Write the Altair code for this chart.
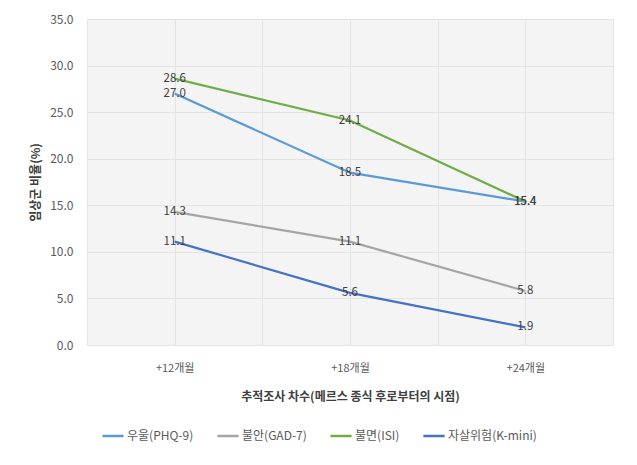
import altair as alt
import pandas as pd

months = [12, 18, 24]
series_names = ["우울(PHQ-9)", "불안(GAD-7)", "불면(ISI)", "자살위험(K-mini)"]
depression = [27.0, 18.5, 15.4]
anxiety = [14.3, 11.1, 5.8]
insomnia = [28.6, 24.1, 15.4]
suicide = [11.1, 5.6, 1.9]
colors = ["#5B9BD5", "#A5A5A5", "#70AD47", "#4472C4"]

rows = []
for name, vals in zip(series_names, [depression, anxiety, insomnia, suicide]):
    for m, v in zip(months, vals):
        rows.append({"month": m, "series": name, "value": v})
df = pd.DataFrame(rows)

FONT = "Noto Sans CJK KR"

x = alt.X(
    "month:Q",
    scale=alt.Scale(domain=[9, 27], nice=False, zero=False),
    axis=alt.Axis(
        values=[9, 12, 15, 18, 21, 24, 27],
        labelExpr="(datum.value == 12 || datum.value == 18 || datum.value == 24) ? '+' + datum.value + '개월' : ''",
        title="추적조사 차수(메르스 종식 후로부터의 시점)",
        ticks=False,
        domain=False,
        grid=True,
        gridColor="#e4e4e4",
        labelPadding=17,
        labelFontSize=11,
        labelColor="#595959",
        titleFontSize=12,
        titleFontWeight="bold",
        titleColor="#404040",
        titlePadding=18,
    ),
)
y = alt.Y(
    "value:Q",
    scale=alt.Scale(domain=[0, 35], nice=False),
    axis=alt.Axis(
        values=[0, 5, 10, 15, 20, 25, 30, 35],
        format=".1f",
        title="임상군 비율(%)",
        ticks=False,
        domain=False,
        grid=True,
        gridColor="#e4e4e4",
        labelPadding=14,
        labelFontSize=12,
        labelColor="#595959",
        titleFontSize=12,
        titleFontWeight="bold",
        titleColor="#404040",
        titlePadding=7,
    ),
)
color = alt.Color(
    "series:N",
    scale=alt.Scale(domain=series_names, range=colors),
    sort=series_names,
    legend=alt.Legend(
        title=None,
        orient="none",
        legendX=14,
        legendY=405,
        direction="horizontal",
        columns=4,
        symbolType="stroke",
        symbolStrokeWidth=2.5,
        symbolSize=450,
        labelFontSize=12,
        labelColor="#595959",
        columnPadding=18,
        labelOffset=2,
    ),
)

lines = alt.Chart(df).mark_line(strokeWidth=2.2).encode(x=x, y=y, color=color)
labels = alt.Chart(df).mark_text(
    fontSize=11.5, color="#404040", align="center", baseline="middle"
).encode(x="month:Q", y="value:Q", text=alt.Text("value:Q", format=".1f"))

chart = (
    alt.layer(lines, labels)
    .properties(
        width=526,
        height=326,
        autosize=alt.AutoSizeParams(type="none"),
        padding={"left": 79, "top": 11, "right": 16, "bottom": 112},
    )
    .configure(font=FONT)
    .configure_view(fill="#f4f4f4", stroke=None)
)

chart.save("out.html", embed_options={"renderer": "svg", "actions": False})
